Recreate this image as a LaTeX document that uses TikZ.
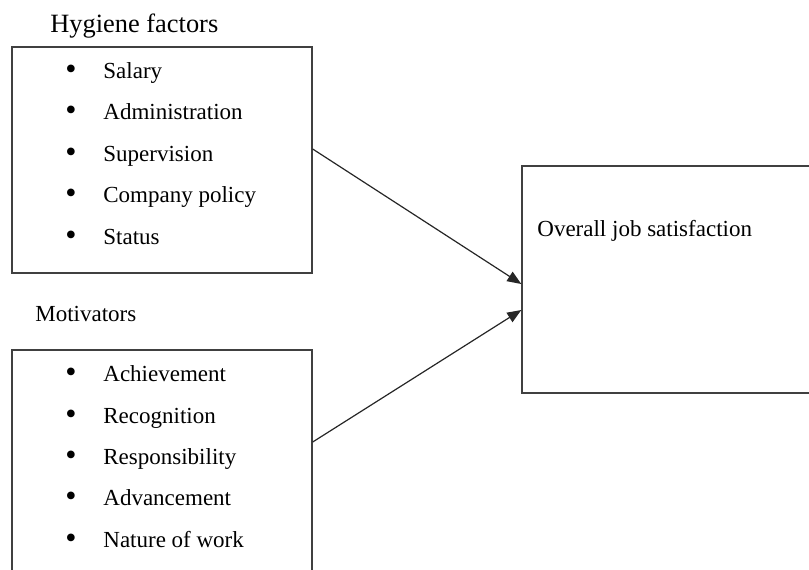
\documentclass[tikz,border=0pt]{standalone}
\usepackage{fontspec}
\setmainfont{Liberation Serif}
\usetikzlibrary{arrows.meta}
\tikzset{%
  mybox/.style={rectangle, draw=black!75, line width=0.7pt, inner sep=0pt},
  myedge/.style={-{Triangle[length=7pt, width=5.5pt]}, draw=black!85, line width=0.6pt},
  myitem/.style={anchor=base west, inner sep=0pt, font=\fontsize{11.5}{14}\selectfont},
  mybullet/.style={anchor=base west, inner sep=0pt, font=\fontsize{16}{18}\selectfont},
  mylabel/.style={anchor=base west, inner sep=0pt}
}

\begin{document}
\begin{tikzpicture}[x=0.5pt, y=-0.5pt]
\useasboundingbox (0,0) rectangle (809,569);
\clip (0,0) rectangle (809,569);

% boxes
\node [mybox, minimum width=150pt, minimum height=113pt] (hyg) at (162,160) {};
\node [mybox, minimum width=150pt, minimum height=125pt] (mot) at (162,475) {};
\node [mybox, minimum width=145pt, minimum height=113.5pt] (sat) at (667,279.5) {};

% headings
\node [mylabel, font=\fontsize{13.2}{16}\selectfont] (hygtitle) at (50,32.5) {Hygiene factors};
\node [myitem] (mottitle) at (35,321) {Motivators};
\node [myitem] (sattitle) at (537,236.5) {Overall job satisfaction};

% bullet lists
\foreach \txt [count=\i] in {Salary, Administration, Supervision, Company policy, Status} {
  \node [mybullet] (hygb\i) at (65,{79+41.6*(\i-1)}) {•};
  \node [myitem] (hyg\i) at (103,{78+41.6*(\i-1)}) {\txt};
}

\foreach \txt [count=\i] in {Achievement, Recognition, Responsibility, Advancement, Nature of work} {
  \node [mybullet] (motb\i) at (65,{382.7+41.4*(\i-1)}) {•};
  \node [myitem] (mot\i) at (103,{381.7+41.4*(\i-1)}) {\txt};
}

% arrows
\draw [myedge] ([yshift=5.5pt]hyg.east) -- ([yshift=-2.25pt]sat.west);
\draw [myedge] ([yshift=16.5pt]mot.east) -- ([yshift=-15.25pt]sat.west);

\end{tikzpicture}
\end{document}
